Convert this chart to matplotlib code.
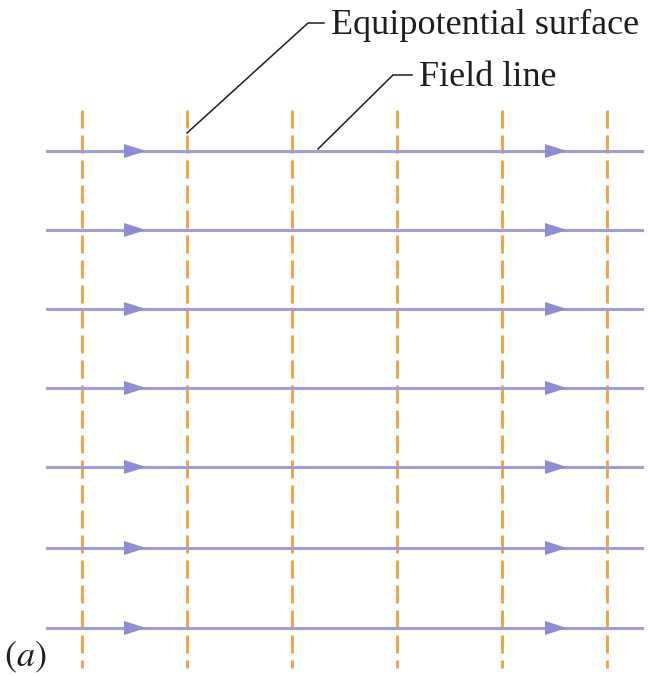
import matplotlib.pyplot as plt
from matplotlib.patches import Polygon

plt.rcParams["mathtext.fontset"] = "stix"

# uniform field: horizontal field lines and vertical equipotential surfaces
field_y = [151, 230, 309, 388, 467, 548, 628]
equi_x = [82, 187, 292, 397, 502, 607]
arrow_x = [146, 567]   # arrow tip positions on every field line

line_col = "#9d9edb"
arrow_col = "#8c8dd4"
dash_col = "#eea040"
text_col = "#1e1e1e"


def main():
    fig = plt.figure(figsize=(6.48, 6.76), dpi=100)
    ax = fig.add_axes([0, 0, 1, 1])
    ax.set_xlim(0, 648)
    ax.set_ylim(676, 0)
    ax.axis("off")

    #equipotential surfaces
    for x in equi_x:
        ax.plot([x, x], [110, 668], color=dash_col, lw=2.0,
                dashes=(6.5, 2.5), solid_capstyle="butt", zorder=1)

    #field lines with arrows
    for y in field_y:
        ax.plot([47, 642], [y, y], color=line_col, lw=2.2, zorder=2)
        for tip in arrow_x:
            tri = Polygon([[tip, y], [tip - 22, y - 7], [tip - 22, y + 7]],
                          closed=True, color=arrow_col, lw=0, zorder=3)
            ax.add_patch(tri)

    #labels with leader lines
    ax.plot([187, 308, 324], [133, 23, 23], color=text_col, lw=1.1, zorder=4)
    ax.text(331, 25, "Equipotential surface", family="Liberation Serif",
            fontsize=26, va="center", ha="left", color=text_col)
    ax.plot([318, 393, 412], [149, 75, 75], color=text_col, lw=1.1, zorder=4)
    ax.text(419, 77, "Field line", family="Liberation Serif",
            fontsize=26, va="center", ha="left", color=text_col)

    ax.text(4, 657, r"$(a)$", fontsize=26, va="center", ha="left",
            color=text_col)

    fig.savefig("out.png", dpi=100)


if __name__ == "__main__":
    main()
